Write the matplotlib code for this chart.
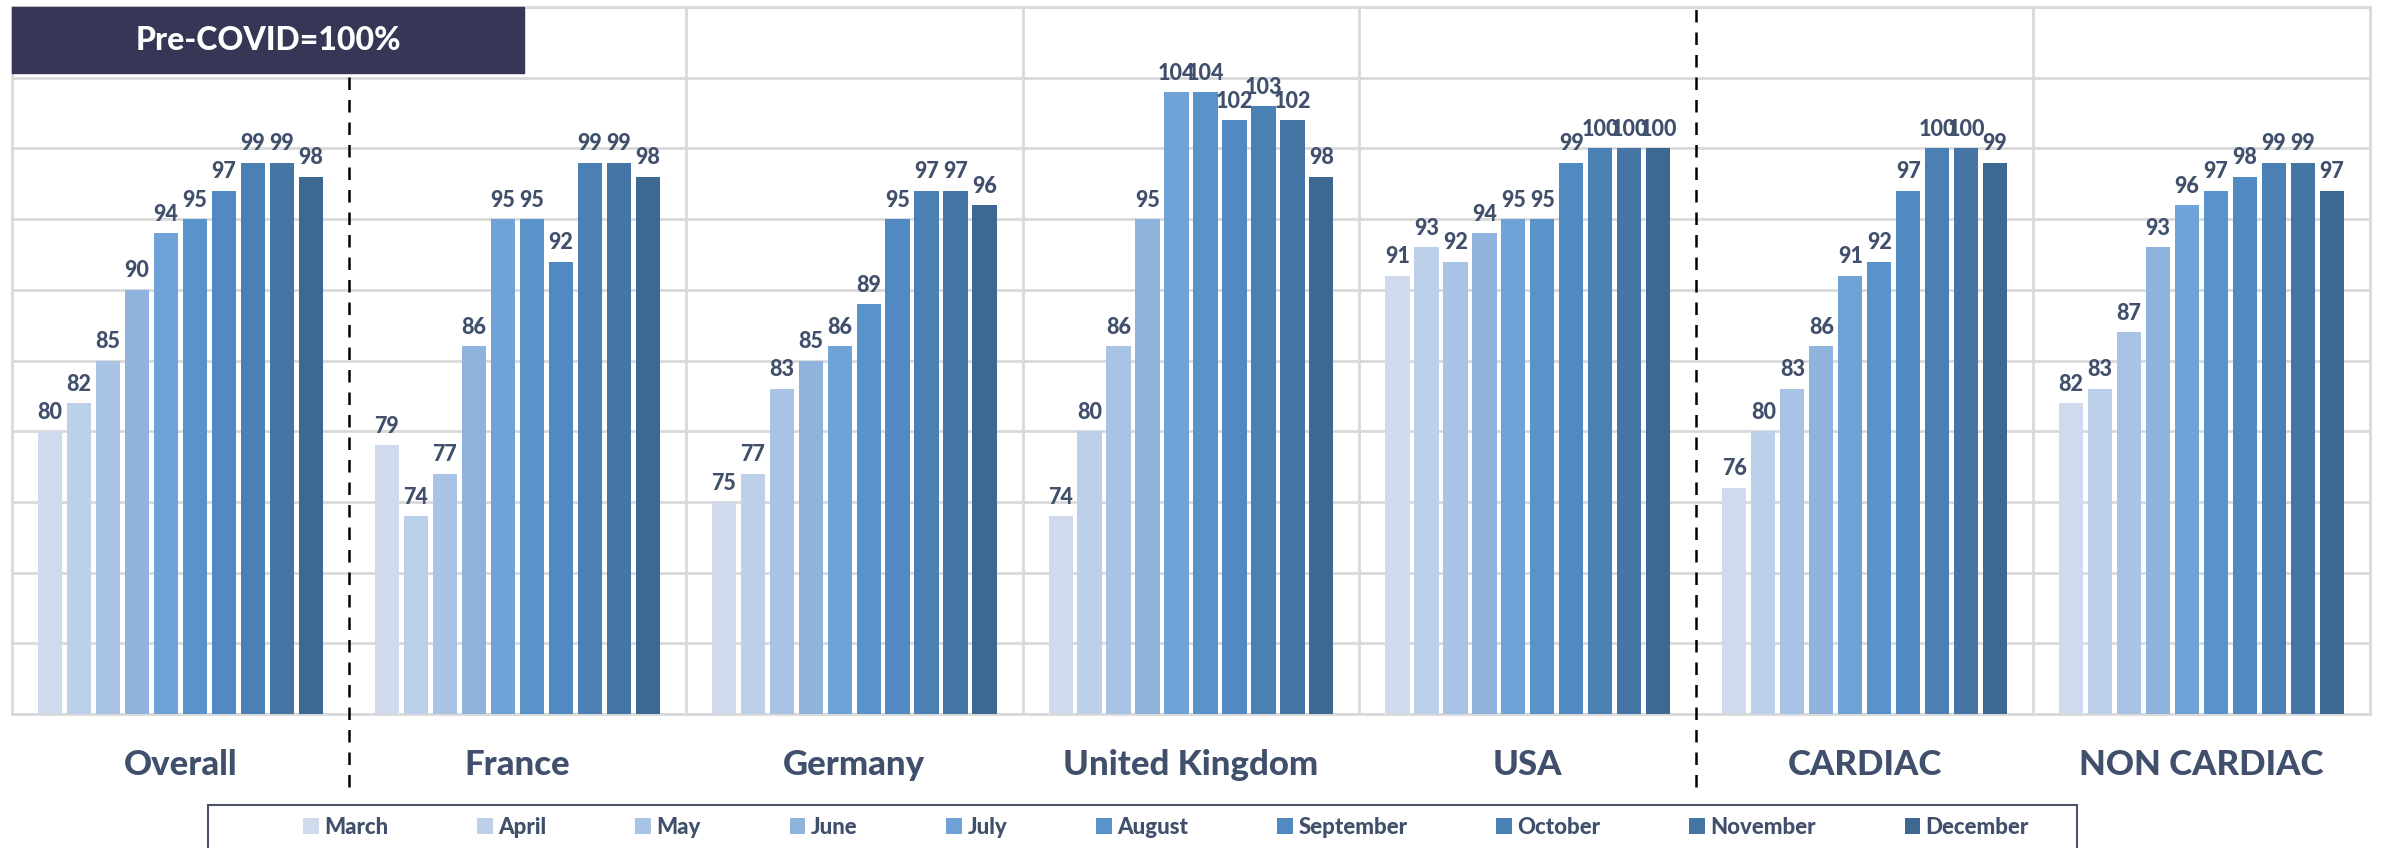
import numpy as np
import matplotlib.pyplot as plt
from matplotlib.patches import Rectangle
from matplotlib.transforms import blended_transform_factory

groups = ['Overall', 'France', 'Germany', 'United Kingdom', 'USA', 'CARDIAC', 'NON CARDIAC']
months = ['March', 'April', 'May', 'June', 'July', 'August',
          'September', 'October', 'November', 'December']

overall = [80, 82, 85, 90, 94, 95, 97, 99, 99, 98]
france = [79, 74, 77, 86, 95, 95, 92, 99, 99, 98]
germany = [75, 77, 83, 85, 86, 89, 95, 97, 97, 96]
uk = [74, 80, 86, 95, 104, 104, 102, 103, 102, 98]
usa = [91, 93, 92, 94, 95, 95, 99, 100, 100, 100]
cardiac = [76, 80, 83, 86, 91, 92, 97, 100, 100, 99]
non_cardiac = [82, 83, 87, 93, 96, 97, 98, 99, 99, 97]

colors = ['#CFDBED', '#BDD0EA', '#A9C3E5', '#8FB3DD', '#6FA2D6',
          '#5894CA', '#518AC0', '#4A80B4', '#4475A4', '#3C6891']

data = np.array([overall, france, germany, uk, usa, cardiac, non_cardiac])

fam = ['Lato', 'DejaVu Sans']
txt = '#404F6B'
grid = '#D9D9D9'

W, H = 2382, 848
fig = plt.figure(figsize=(W / 100, H / 100), dpi=100)
ax = fig.add_axes([12 / W, 1 - 714 / H, (2370 - 12) / W, 707 / H])

x = np.arange(len(groups))
slot = 0.086
bw = 0.072
bars = []
for m in range(len(months)):
    off = (m - 4.5) * slot
    b = ax.bar(x + off, data[:, m], bw, bottom=0, color=colors[m], label=months[m], zorder=3)
    ax.bar_label(b, labels=[str(v) for v in data[:, m]], padding=6,
                 fontsize=15.5, fontweight='black', color=txt, family=fam)
    bars.append(b)

ax.set_ylim(60, 110)
ax.set_xlim(-0.5, len(groups) - 0.5)
ax.set_yticks(np.arange(60, 111, 5))
ax.set_yticklabels([])
ax.tick_params(length=0)
ax.set_xticks([])
ax.grid(axis='y', color=grid, linewidth=2, zorder=0)
for s in ax.spines.values():
    s.set_color(grid)
    s.set_linewidth(2)

trans = blended_transform_factory(ax.transData, ax.transAxes)
for b in [1.5, 2.5, 3.5, 5.5]:
    ax.plot([b, b], [0, 1], color=grid, linewidth=2, transform=trans, zorder=1)
for b in [0.5, 4.5]:
    ax.plot([b, b], [-0.103, 1], color='black', linewidth=1.8, linestyle=(0, (5, 4)),
            transform=trans, clip_on=False, zorder=4)

for i, g in enumerate(groups):
    ax.text(i, -0.072, g, transform=trans, ha='center', va='center',
            fontsize=25, fontweight='black', color=txt, family=fam)

# Pre-COVID box
fig.patches.append(Rectangle((12 / W, 1 - 73 / H), 512 / W, 66 / H,
                             transform=fig.transFigure, color='#363756', zorder=10))
fig.text(268 / W, 1 - 41 / H, 'Pre-COVID=100%', ha='center', va='center',
         fontsize=23, fontweight='black', color='white', family=fam, zorder=11)

# legend frame
fig.patches.append(Rectangle((208 / W, -0.05), (2077 - 208) / W, 0.05 + 43 / H,
                             transform=fig.transFigure, facecolor='white',
                             edgecolor='#4A5468', linewidth=1.5, zorder=5))
leg = fig.legend(handles=bars, labels=months, loc='center', ncol=10,
                 bbox_to_anchor=(1166 / W, 1 - 827 / H), frameon=False,
                 handlelength=0.7, handleheight=0.7, handletextpad=0.25,
                 columnspacing=4.0, prop={'family': fam, 'size': 16})
for t in leg.get_texts():
    t.set_color(txt)
    t.set_fontweight('black')
leg.set_zorder(6)

fig.savefig('out.png', dpi=100)
